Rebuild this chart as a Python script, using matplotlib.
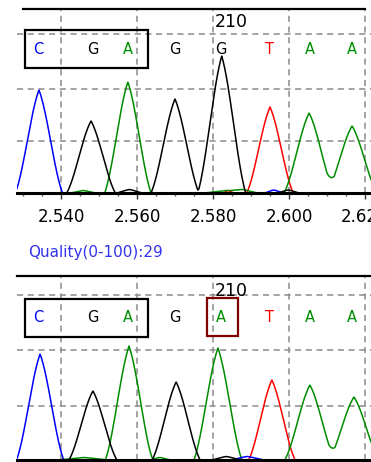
import numpy as np
import matplotlib.pyplot as plt
from matplotlib.patches import Rectangle
from matplotlib.ticker import MultipleLocator

# base calls shown above each trace
calls_top = ["C", "G", "A", "G", "G", "T", "A", "A"]
calls_bot = ["C", "G", "A", "G", "A", "T", "A", "A"]
call_pos = [2.5339, 2.5484, 2.5576, 2.5700, 2.5821, 2.5950, 2.6055, 2.6166]

# main peaks (channel, centre, height, half base width)
top_chan = ["C", "G", "A", "G", "G", "T", "A", "A"]
top_center = [2.5342, 2.5479, 2.5576, 2.5700, 2.5823, 2.5950, 2.6053, 2.6166]
top_height = [103, 72, 111, 94, 137, 86, 80, 67]
top_width = [0.0062, 0.0064, 0.0061, 0.0063, 0.0063, 0.0061, 0.0066, 0.0066]

bot_chan = ["C", "G", "A", "G", "A", "T", "A", "A"]
bot_center = [2.5345, 2.5484, 2.5579, 2.5703, 2.5813, 2.5955, 2.6055, 2.6171]
bot_height = [106, 69, 114, 78, 112, 80, 75, 63]
bot_width = [0.0062, 0.0063, 0.0062, 0.0063, 0.0063, 0.0061, 0.0066, 0.0066]

# small background bumps near the baseline
top_small_chan = ["A", "G", "A", "T", "A", "C", "G"]
top_small_center = [2.5458, 2.5580, 2.5835, 2.5840, 2.5880, 2.5960, 2.5998]
top_small_height = [2.5, 3.5, 2.5, 2.5, 3.0, 3.0, 3.0]
top_small_width = [0.0035, 0.0035, 0.0060, 0.0015, 0.0040, 0.0025, 0.0030]

bot_small_chan = ["A", "A", "G", "C"]
bot_small_center = [2.5459, 2.5660, 2.5835, 2.5890]
bot_small_height = [2.5, 2.5, 3.5, 3.5]
bot_small_width = [0.0070, 0.0030, 0.0040, 0.0045]

colors = {"A": "#008c00", "C": "#0000ff", "G": "#000000", "T": "#ff0000"}

x_min, x_max = 2.52842, 2.62158
px = 0.02 / 76  # one screen pixel in x units


def trace(x, chans, centers, heights, widths, ch):
    y = np.zeros_like(x)
    for c, m, h, w in zip(chans, centers, heights, widths):
        if c != ch:
            continue
        d = np.abs(x - m)
        tri = np.clip(1 - d / w, 0, None)
        hann = np.where(d < w, np.cos(np.pi * d / (2 * w)) ** 2, 0)
        y += h * (0.6 * tri + 0.4 * hann)
    return y


fig = plt.figure(figsize=(3.71, 4.62), dpi=100)
ax1 = fig.add_axes([17 / 371, 1 - 193 / 462, 1 - 17 / 371, 184 / 462])
ax2 = fig.add_axes([17 / 371, 1 - 460 / 462, 1 - 17 / 371, 184 / 462])

x = np.linspace(x_min - 0.003, x_max + 0.003, 1500)

panels = [
    (ax1, top_chan, top_center, top_height, top_width,
     top_small_chan, top_small_center, top_small_height, top_small_width,
     calls_top, [52, 104, 159], 144, 171),
    (ax2, bot_chan, bot_center, bot_height, bot_width,
     bot_small_chan, bot_small_center, bot_small_height, bot_small_width,
     calls_bot, [54, 110, 165], 142, 169),
]

for (ax, ch_, ce_, he_, wi_, sch, sce, she, swi, calls, grid_y,
     call_y, num_y) in panels:
    for ch in ["T", "A", "C", "G"]:
        y = trace(x, ch_, ce_, he_, wi_, ch) + trace(x, sch, sce, she, swi, ch)
        ax.plot(x, y, color=colors[ch], lw=1.1, zorder=2)
    ax.set_xlim(x_min, x_max)
    ax.set_ylim(0, 184)
    ax.xaxis.set_major_locator(MultipleLocator(0.02))
    ax.xaxis.set_minor_locator(MultipleLocator(0.005))
    ax.set_yticks(grid_y)
    ax.grid(True, color="#8a8a8a", linestyle=(0, (4, 3)), lw=1.1)
    ax.set_axisbelow(True)
    ax.tick_params(left=False, labelleft=False)
    ax.tick_params(axis="x", which="major", direction="out", length=4.5,
                   width=1, color="#333333", labelsize=12, pad=6)
    ax.tick_params(axis="x", which="minor", direction="out", length=2.5,
                   width=1, color="#555555")
    for s in ["left", "right"]:
        ax.spines[s].set_visible(False)
    ax.spines["bottom"].set_linewidth(2.2)
    ax.spines["bottom"].set_zorder(3)
    for b, p in zip(calls, call_pos):
        ax.text(p, call_y, b, color=colors[b], fontsize=10.5,
                ha="center", va="center")
    ax.text(2.5847, num_y, "210", fontsize=12.5, ha="center", va="center")
    ax.add_patch(Rectangle((x_min + 8 * px, call_y - 19), 123 * px, 38,
                           fill=False, ec="black", lw=1.6, zorder=4,
                           clip_on=False))
    ax.xaxis.set_major_formatter(plt.FuncFormatter(lambda v, _: f"{v:.3f}"))

ax1.spines["top"].set_visible(False)
ax1.plot([x_min + 6 * px, x_min + 348 * px], [184, 184], color="black",
         lw=1.6, clip_on=False, zorder=4)
ax2.spines["top"].set_linewidth(1.6)
ax2.tick_params(labelbottom=False)

# highlighted base in lower trace
ax2.add_patch(Rectangle((2.57842, 124), 31 * px, 38, fill=False,
                        ec="#800000", lw=1.6, zorder=4, clip_on=False))

fig.text(28 / 371, 1 - 253 / 462, "Quality(0-100):29", color="#3333ee",
         fontsize=11, ha="left", va="center")

fig.savefig("out.png", dpi=100)
